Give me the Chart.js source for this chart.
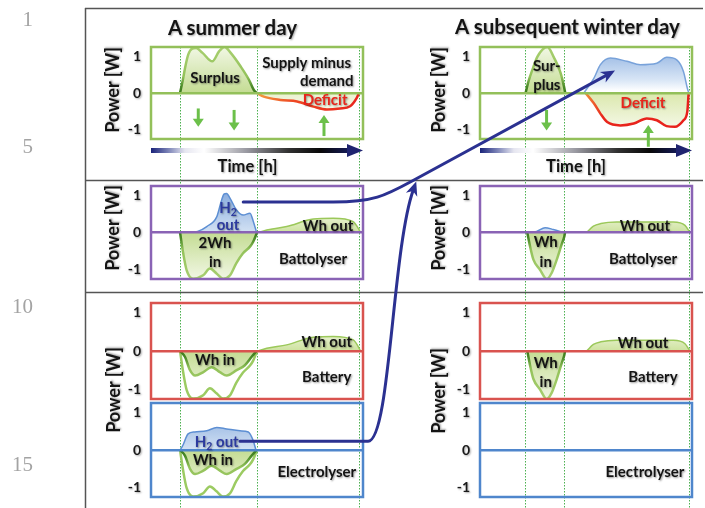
<!DOCTYPE html>
<html><head><meta charset="utf-8">
<script src="https://cdn.jsdelivr.net/npm/chart.js@4"></script>
<style>
html,body{margin:0;padding:0;background:#fff;}
#page{position:relative;width:705px;height:508px;overflow:hidden;font-family:Lato,"Open Sans",sans-serif;}
#page canvas{position:absolute;}
.t{position:absolute;white-space:nowrap;font-weight:bold;color:#141414;text-shadow:1px 1px 2px rgba(0,0,0,0.35);transform:translate(-50%,-50%);line-height:1;}
.rot{transform:translate(-50%,-50%) rotate(-90deg);}
.ln{position:absolute;font-family:"Liberation Serif","DejaVu Serif",serif;font-size:21px;color:#a3a3a3;text-align:right;width:30px;transform:translateY(-50%);line-height:1;}
</style></head><body><div id="page">
<canvas id="bg" width="705" height="508" style="left:0;top:0"></canvas>
</div>
<script>
// ---------------- data (time in % of the day window, power in W) ----------------
const lineNumbers = ['1', '5', '10', '15'];
const dayTitles = ['A summer day', 'A subsequent winter day'];
const yTicks = [-1, 0, 1];
const summerMarks = [13.7, 50, 98.1];
const winterMarks = [21, 39.6, 98.4];

const summerSurplus = [[13.7,0],[15,0.35],[16.3,0.75],[17.6,1.05],[19.3,1.2],[21.3,1.22],[24.3,1.09],[28.9,0.86],[32.1,1.13],[34.7,1.25],[37.6,1.09],[42.3,0.72],[46.2,0.36],[48.5,0.08],[50,0]];
const summerDeficit = [[50,0],[53.2,-0.1],[61,-0.19],[68.9,-0.23],[76.6,-0.37],[83,-0.45],[89.2,-0.42],[93.9,-0.36],[97,-0.14],[98.1,0]];
const winterSurplus = [[21.5,0],[22.8,0.3],[24.7,0.63],[27.1,0.99],[31.8,1.25],[34.9,0.96],[38,0.55],[39.6,0.18],[40.2,0]];
const winterH2Power = [[49,0],[53.7,0.4],[56.8,0.77],[61.5,0.95],[69.3,0.86],[75.6,0.77],[83.4,0.81],[88.1,0.97],[92.8,0.9],[96,0.58],[97.8,0.13],[98.5,0]];
const winterDeficit = [[49.8,0],[53.7,-0.28],[56.8,-0.56],[60,-0.79],[66.2,-0.88],[72.5,-0.83],[78.7,-0.69],[83.4,-0.74],[88,-0.9],[92,-0.92],[96,-0.74],[97.8,-0.5],[98.4,0]];
const summerH2Battolyser = [[17.6,0],[22,0.03],[26.3,0.16],[31,0.42],[33.3,0.87],[34.4,1.03],[35.7,1.05],[37.3,0.92],[40.4,0.6],[43.5,0.47],[46.7,0.52],[48.3,0.29],[49.8,0]];
const summerCharge2Wh = [[13.7,0],[15.2,-0.56],[16.8,-1.01],[19.9,-1.24],[24.6,-1.15],[27.8,-0.97],[30.9,-1.1],[34,-1.24],[37.3,-1.15],[40.2,-0.83],[43.4,-0.56],[46.7,-0.38],[48.2,-0.25],[50,0]];
const summerDischarge = [[50.6,0],[54.6,0.07],[64,0.16],[76.6,0.36],[86,0.38],[95.4,0.29],[97.8,0.11],[98.8,0]];
const winterH2Battolyser = [[22,0],[26.7,0.03],[30.7,0.13],[34.6,0.08],[39.3,0]];
const winterCharge = [[22.3,0],[23.6,-0.37],[25.2,-0.73],[28.3,-1.0],[31.5,-1.25],[33.8,-1.09],[36.2,-0.73],[38.5,-0.32],[39.8,-0.1],[40.1,0]];
const winterDischarge = [[50.3,0],[53.5,0.17],[57,0.24],[64.5,0.28],[80.2,0.28],[91.2,0.28],[96.7,0.19],[99,0]];
const summerChargeWh = [[13.7,0],[16,-0.15],[18.4,-0.5],[20.8,-0.64],[24.7,-0.55],[28.6,-0.42],[32.5,-0.55],[35.7,-0.64],[40.4,-0.5],[44.3,-0.37],[47.5,-0.15],[49.8,0]];
const summerH2Electrolyser = [[13.7,0],[15,0.12],[17.5,0.43],[20.6,0.48],[26.3,0.51],[31,0.6],[35.7,0.56],[42,0.51],[45.9,0.48],[48.2,0.25],[49.5,0]];

// ---------------- layout & style ----------------
const AXIS_W = 44, PAD_V = 20, PAD_R = 3;
const colBox = [{left:151, right:363}, {left:480, right:692}];
const rowBox = [{top:47, bottom:139}, {top:186, bottom:279}, {top:303, bottom:399}, {top:403, bottom:497}];
const rowColor = ['#93c05a', '#8a63b5', '#d9534f', '#4f86cc'];
const FONT = 'Lato, "Open Sans", sans-serif';
Chart.defaults.font.family = FONT;

function vGrad(stops) {
  return (c) => {
    const chart = c.chart;
    if (!chart.chartArea) return stops[0][1];
    const y = chart.scales.y, top = y.getPixelForValue(1.25), bot = y.getPixelForValue(-1.25);
    const g = chart.ctx.createLinearGradient(0, top, 0, bot);
    stops.forEach(([v, col]) => g.addColorStop(Math.min(1, Math.max(0, (y.getPixelForValue(v) - top) / (bot - top))), col));
    return g;
  };
}
function hGrad(stops) {
  return (c) => {
    const chart = c.chart;
    if (!chart.chartArea) return stops[0][1];
    const x = chart.scales.x, l = x.getPixelForValue(0), r = x.getPixelForValue(100);
    const g = chart.ctx.createLinearGradient(l, 0, r, 0);
    stops.forEach(([v, col]) => g.addColorStop(v / 100, col));
    return g;
  };
}
const greenEdge = vGrad([[1.25,'#a8cf70'],[0.45,'#93c25a'],[0.18,'#4d8c2a'],[0,'#3a7a1c'],[-0.18,'#4d8c2a'],[-0.45,'#93c25a'],[-1.25,'#a8cf70']]);
const styles = {
  surplus: {fill:'origin', backgroundColor: vGrad([[1.25,'#f1f7e4'],[0,'#c4dc93'],[-1.25,'#f1f7e4']]), borderColor: greenEdge, borderWidth: 2.5},
  out: {fill:'origin', backgroundColor: vGrad([[0.5,'#eef5da'],[0,'#cde29e']]), borderColor:'#9bc85a', borderWidth:1.5},
  ghost: {fill:false, borderColor:'#9ccb62', borderWidth:2.5},
  h2: {fill:'origin', backgroundColor: vGrad([[1.1,'#86aadd'],[0,'#d3e2f4']]), borderColor:'#5d8fd3', borderWidth:1.5},
  h2winter: {fill:'origin', backgroundColor: vGrad([[1.0,'#a2bfe6'],[0.35,'#d9e6f6'],[0.05,'#ffffff']]), borderColor:'#78a2da', borderWidth:1.5},
  deficit: {fill:'origin', backgroundColor: vGrad([[0,'#eaf1cf'],[-0.5,'#f7f9ea']]), borderColor: hGrad([[50,'#f5a040'],[66,'#ee4a24'],[100,'#e8201c']]), borderWidth:2.5},
  deficitWinter: {fill:'origin', backgroundColor: vGrad([[0,'#dbe8ad'],[-1,'#f6f9ea']]), borderColor: hGrad([[50,'#f28a3a'],[58,'#e8261c'],[100,'#e8201c']]), borderWidth:2.5}
};
const RED = '#e8261c', NAVY_TXT = '#2c3a9e';

const panels = [
  {row:0, col:0, timeArrow:true,
   series:[{data:summerSurplus, style:'surplus'}, {data:summerDeficit, style:'deficit'}],
   labels:[['Surplus',30.2,0.41],['Supply minus',73.4,0.82],['demand',82.9,0.33],['Deficit',82.1,-0.19,RED]],
   flows:[[22.3,-0.42,-0.92],[39.2,-0.46,-1.02],[81.6,-1.17,-0.6]]},
  {row:0, col:1, timeArrow:true,
   series:[{data:winterSurplus, style:'surplus'}, {data:winterH2Power, style:'h2winter'}, {data:winterDeficit, style:'deficitWinter'}],
   labels:[['Sur-',31.5,0.73],['plus',31.5,0.22],['Deficit',76.9,-0.27,RED]],
   flows:[[31.4,-0.46,-1.02],[79.4,-1.46,-0.87]]},
  {row:1, col:0,
   series:[{data:summerH2Battolyser, style:'h2'}, {data:summerCharge2Wh, style:'surplus'}, {data:summerDischarge, style:'out'}],
   labels:[['H₂',36.3,0.66,NAVY_TXT],['out',36.3,0.2,NAVY_TXT],['2Wh',30.2,-0.28],['in',30.2,-0.79],['Wh out',83.5,0.17],['Battolyser',76.4,-0.71]]},
  {row:1, col:1,
   series:[{data:winterH2Battolyser, style:'h2'}, {data:winterCharge, style:'surplus'}, {data:winterDischarge, style:'out'}],
   labels:[['Wh',31,-0.26],['in',31,-0.79],['Wh out',77.8,0.17],['Battolyser',76.9,-0.71]]},
  {row:2, col:0,
   series:[{data:summerCharge2Wh, style:'ghost'}, {data:summerChargeWh, style:'surplus'}, {data:summerDischarge, style:'out'}],
   labels:[['Wh in',30.2,-0.23],['Wh out',82.9,0.22],['Battery',82.9,-0.68]]},
  {row:2, col:1,
   series:[{data:winterCharge, style:'surplus'}, {data:winterDischarge, style:'out'}],
   labels:[['Wh',31,-0.31],['in',31,-0.81],['Wh out',76.9,0.21],['Battery',81.6,-0.68]]},
  {row:3, col:0,
   series:[{data:summerCharge2Wh, style:'ghost'}, {data:summerH2Electrolyser, style:'h2'}, {data:summerChargeWh, style:'surplus'}],
   labels:[['H₂ out',31,0.22,NAVY_TXT],['Wh in',29.2,-0.27],['Electrolyser',78.2,-0.6]]},
  {row:3, col:1, series:[], labels:[['Electrolyser',77.8,-0.6]]}
];

// ---------------- drawing helpers ----------------
function drawLabel(ctx, text, x, y, color) {
  const main = 'bold 15px ' + FONT, sub = 'bold 10.5px ' + FONT;
  ctx.save();
  ctx.textBaseline = 'middle';
  ctx.shadowColor = 'rgba(0,0,0,0.4)'; ctx.shadowBlur = 2; ctx.shadowOffsetX = 1; ctx.shadowOffsetY = 1;
  ctx.fillStyle = color || '#141414';
  ctx.font = main;
  const parts = text.split('₂');
  if (parts.length === 1) { ctx.textAlign = 'center'; ctx.fillText(text, x, y); }
  else {
    const w0 = ctx.measureText(parts[0]).width, w2 = ctx.measureText(parts[1]).width;
    ctx.font = sub; const ws = ctx.measureText('2').width;
    let cx = x - (w0 + ws + w2) / 2;
    ctx.textAlign = 'left';
    ctx.font = main; ctx.fillText(parts[0], cx, y); cx += w0;
    ctx.font = sub; ctx.fillText('2', cx, y + 5); cx += ws;
    ctx.font = main; ctx.fillText(parts[1], cx, y);
  }
  ctx.restore();
}
function drawFlow(ctx, x, y0, y1) {
  const dir = Math.sign(y1 - y0);
  ctx.save();
  ctx.strokeStyle = ctx.fillStyle = '#6cc04a'; ctx.lineWidth = 3;
  ctx.beginPath(); ctx.moveTo(x, y0); ctx.lineTo(x, y1 - dir * 7); ctx.stroke();
  ctx.beginPath(); ctx.moveTo(x - 5.5, y1 - dir * 8); ctx.lineTo(x + 5.5, y1 - dir * 8); ctx.lineTo(x, y1); ctx.closePath(); ctx.fill();
  ctx.restore();
}
function drawTimeArrow(ctx, x0, x1, yc) {
  ctx.save();
  const g = ctx.createLinearGradient(x0, 0, x1, 0);
  [[0,'#1a237a'],[0.08,'#7a82b6'],[0.16,'#e6e6f0'],[0.25,'#ffffff'],[0.45,'#9a9aa2'],[0.65,'#303030'],[0.8,'#080808'],[0.93,'#141a55'],[1,'#1a2080']].forEach(s => g.addColorStop(s[0], s[1]));
  ctx.fillStyle = g; ctx.fillRect(x0, yc - 2.5, x1 - 15 - x0, 5);
  ctx.fillStyle = '#1f2470';
  ctx.beginPath(); ctx.moveTo(x1 - 16, yc - 6.5); ctx.lineTo(x1, yc); ctx.lineTo(x1 - 16, yc + 6.5); ctx.closePath(); ctx.fill();
  ctx.restore();
}
const panelPlugin = {
  id: 'panel',
  beforeDraw(chart) { const c = chart.ctx; c.save(); c.shadowColor = 'rgba(0,0,0,0.35)'; c.shadowBlur = 2; c.shadowOffsetX = 1; c.shadowOffsetY = 1; },
  beforeDatasetsDraw(chart) { chart.ctx.restore(); },
  afterDraw(chart, args, o) {
    const {ctx, chartArea: ca, scales: {x, y}} = chart;
    ctx.save(); ctx.strokeStyle = o.color; ctx.lineWidth = 2.5;
    ctx.strokeRect(ca.left, ca.top, ca.right - ca.left, ca.bottom - ca.top); ctx.restore();
    if (o.timeArrow) drawTimeArrow(ctx, x.getPixelForValue(0), x.getPixelForValue(100), ca.bottom + 11.5);
    (o.flows || []).forEach(f => drawFlow(ctx, x.getPixelForValue(f[0]), y.getPixelForValue(f[1]), y.getPixelForValue(f[2])));
    (o.labels || []).forEach(l => drawLabel(ctx, l[0], x.getPixelForValue(l[1]), y.getPixelForValue(l[2]), l[3]));
  }
};

// ---------------- build charts ----------------
const page = document.getElementById('page');
const built = [];
panels.forEach(p => {
  const cb = colBox[p.col], rb = rowBox[p.row];
  const cv = document.createElement('canvas');
  cv.width = cb.right - cb.left + AXIS_W + PAD_R;
  cv.height = rb.bottom - rb.top + 2 * PAD_V;
  cv.style.left = (cb.left - AXIS_W) + 'px';
  cv.style.top = (rb.top - PAD_V) + 'px';
  page.appendChild(cv);
  const chart = new Chart(cv, {
    type: 'line',
    data: {datasets: p.series.map((s, i) => Object.assign({
      data: s.data.map(([x, y]) => ({x, y})), order: -i, pointRadius: 0, pointHoverRadius: 0,
      cubicInterpolationMode: 'monotone', tension: 0.4
    }, styles[s.style]))},
    options: {
      responsive: false, animation: false, devicePixelRatio: 1, events: [],
      layout: {padding: {top: PAD_V, bottom: PAD_V, left: 0, right: PAD_R}},
      plugins: {legend: {display: false}, tooltip: {enabled: false},
        panel: {color: rowColor[p.row], labels: p.labels, flows: p.flows, timeArrow: p.timeArrow}},
      scales: {
        x: {type: 'linear', min: 0, max: 100, display: false},
        y: {min: -1.25, max: 1.25,
          afterBuildTicks: s => { s.ticks = yTicks.map(v => ({value: v})); },
          afterFit: s => { s.width = AXIS_W; },
          ticks: {padding: 10, color: '#1a1a1a', font: {weight: 'bold', size: 14}, callback: v => String(v)},
          grid: {z: 1, drawTicks: false, lineWidth: 2.5, color: c => (c.tick && c.tick.value === 0) ? rowColor[p.row] : 'rgba(0,0,0,0)'},
          border: {display: false}}
      }
    },
    plugins: [panelPlugin]
  });
  built.push({chart, cv, p});
});
function px(b, xv, yv) {
  return {x: parseFloat(b.cv.style.left) + b.chart.scales.x.getPixelForValue(xv),
          y: parseFloat(b.cv.style.top) + b.chart.scales.y.getPixelForValue(yv)};
}
const find = (r, c) => built.find(b => b.p.row === r && b.p.col === c);

// background: frame + dotted time marks
(function () {
  const ctx = document.getElementById('bg').getContext('2d');
  ctx.strokeStyle = '#555'; ctx.lineWidth = 1.5;
  ctx.beginPath();
  ctx.moveTo(85.5, 8); ctx.lineTo(85.5, 508);
  ctx.moveTo(85, 8.5); ctx.lineTo(703, 8.5);
  ctx.moveTo(85, 180.5); ctx.lineTo(703, 180.5);
  ctx.moveTo(85, 292.5); ctx.lineTo(703, 292.5);
  ctx.stroke();
  ctx.strokeStyle = '#4cb050'; ctx.lineWidth = 1; ctx.setLineDash([1.5, 1.5]);
  [[0, summerMarks], [1, winterMarks]].forEach(([col, marks]) => {
    const b = find(0, col);
    marks.forEach(m => {
      const p = px(b, m, 1.25);
      const xx = Math.round(p.x) + 0.5;
      ctx.beginPath(); ctx.moveTo(xx, p.y); ctx.lineTo(xx, 508); ctx.stroke();
    });
  });
})();

// foreground: hydrogen carried from summer to winter
(function () {
  const cv = document.createElement('canvas');
  cv.width = 705; cv.height = 508; cv.style.left = '0px'; cv.style.top = '0px';
  page.appendChild(cv);
  const ctx = cv.getContext('2d');
  ctx.strokeStyle = ctx.fillStyle = '#2b3191'; ctx.lineWidth = 3; ctx.lineCap = 'round';
  function head(tip, from) {
    const dx = tip.x - from.x, dy = tip.y - from.y, L = Math.hypot(dx, dy), ux = dx / L, uy = dy / L;
    ctx.beginPath();
    ctx.moveTo(tip.x, tip.y);
    ctx.lineTo(tip.x - ux * 14 - uy * 6, tip.y - uy * 14 + ux * 6);
    ctx.lineTo(tip.x - ux * 10, tip.y - uy * 10);
    ctx.lineTo(tip.x - ux * 14 + uy * 6, tip.y - uy * 14 - ux * 6);
    ctx.closePath(); ctx.fill();
  }
  const S1 = px(find(1, 0), 43.5, 0.82);
  const E1 = px(find(0, 1), 63.7, 0.61);
  const H1 = {x: S1.x + 90, y: S1.y};
  const K = {x: S1.x + 168, y: S1.y - 20.5};
  const dx = E1.x - K.x, dy = E1.y - K.y, L = Math.hypot(dx, dy);
  ctx.beginPath();
  ctx.moveTo(S1.x, S1.y); ctx.lineTo(H1.x, H1.y);
  ctx.bezierCurveTo(H1.x + 40, H1.y, K.x - dx / L * 30, K.y - dy / L * 30, K.x, K.y);
  ctx.lineTo(E1.x - dx / L * 10, E1.y - dy / L * 10);
  ctx.stroke();
  head(E1, K);
  const S2 = px(find(3, 0), 42, 0.23);
  const H2 = {x: S2.x + 128, y: S2.y};
  const E2 = {x: K.x + 5, y: K.y};
  const C2 = {x: H2.x + 24, y: S2.y - 191};
  const ddx = E2.x - C2.x, ddy = E2.y - C2.y, LL = Math.hypot(ddx, ddy);
  ctx.beginPath();
  ctx.moveTo(S2.x, S2.y); ctx.lineTo(H2.x, H2.y);
  ctx.bezierCurveTo(H2.x + 22, H2.y, C2.x, C2.y, E2.x - ddx / LL * 9, E2.y - ddy / LL * 9);
  ctx.stroke();
  head(E2, C2);
})();

// ---------------- HTML text ----------------
function addText(txt, x, y, size, cls) {
  const d = document.createElement('div');
  d.className = cls || 't'; d.textContent = txt;
  d.style.left = x + 'px'; d.style.top = y + 'px'; d.style.fontSize = size + 'px';
  page.appendChild(d); return d;
}
const lnY = [19, 146, 306, 464];
lineNumbers.forEach((n, i) => addText(n, 3, lnY[i], 21, 'ln'));
addText(dayTitles[0], 232.5, 27, 20.5);
addText(dayTitles[1], 567.5, 26, 20.5);
[[112, 90], [112, 228], [113, 390], [438, 90], [438, 228], [438, 391]].forEach(([x, y]) => addText('Power [W]', x, y, 18, 't rot'));
addText('Time [h]', 247.5, 166, 16.5);
addText('Time [h]', 576, 166, 16.5);
</script>
</body></html>
